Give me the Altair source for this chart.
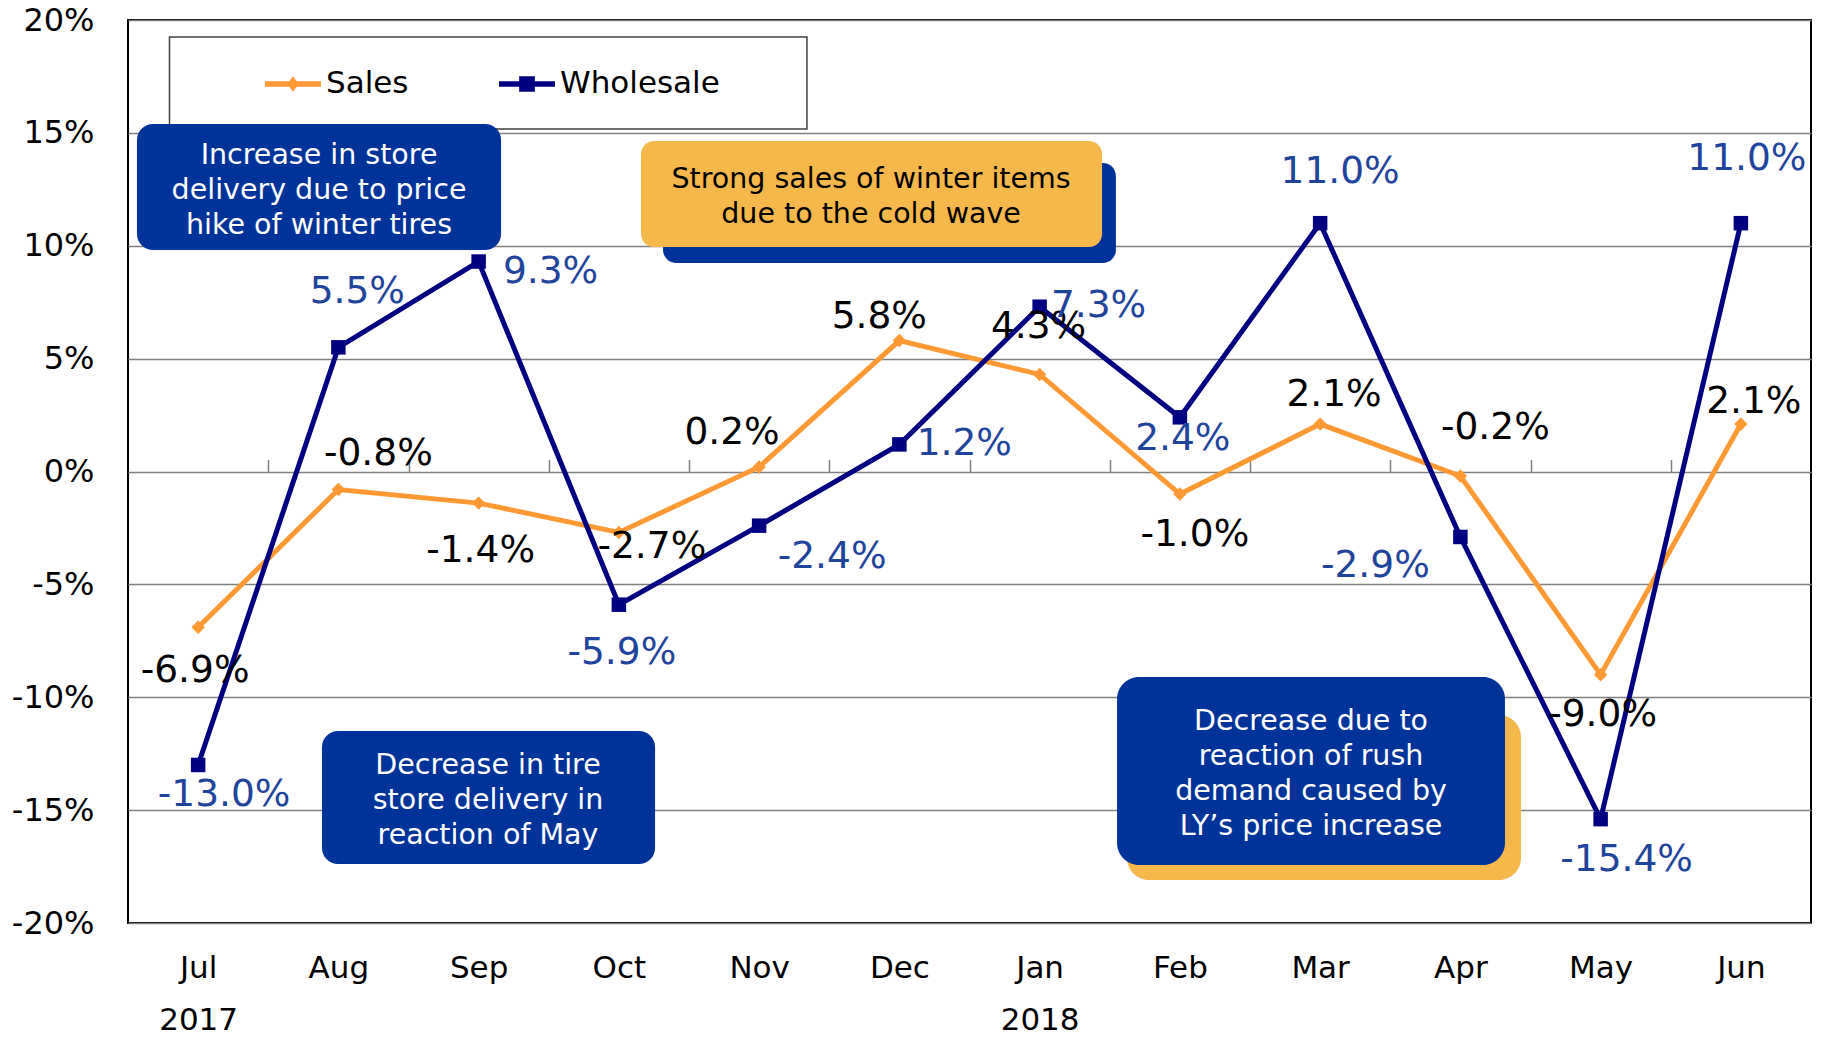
import json
import altair as alt
import pandas as pd

# ---------------- data ----------------
months = ["Jul", "Aug", "Sep", "Oct", "Nov", "Dec", "Jan", "Feb", "Mar", "Apr", "May", "Jun"]
years = ["2017", "", "", "", "", "", "2018", "", "", "", "", ""]
series_names = ["Sales", "Wholesale"]
sales = [-6.9, -0.8, -1.4, -2.7, 0.2, 5.8, 4.3, -1.0, 2.1, -0.2, -9.0, 2.1]
wholesale = [-13.0, 5.5, 9.3, -5.9, -2.4, 1.2, 7.3, 2.4, 11.0, -2.9, -15.4, 11.0]
y_ticks = [-20, -15, -10, -5, 0, 5, 10, 15, 20]

# label placement offsets (pixels, relative to each point)
sales_dx = [-3, 40, 2, 33, -27, -20, -1, 15, 14, 35, 2, 13]
sales_dy = [44, -36, 48, 15, -34, -24, -47, 41, -29, -48, 40, -22]
whole_dx = [26, 19, 72, 3, 73, 65, 59, 3, 20, -85, 26, 6]
whole_dy = [30, -55, 10, 48, 31, 0, -1, 22, -51, 29, 41, -64]

# ---------------- styles ----------------
FONT = "DejaVu Sans"
SALES_C = "#FF9933"
WHOLE_C = "#000080"
LABEL_BLUE = "#1F449C"
BOX_BLUE = "#003399"
BOX_ORANGE = "#F7B84B"
GRID_C = "#808080"
LINE_H = 35

rows = []
for name, vals, dxs, dys in [("Sales", sales, sales_dx, sales_dy),
                             ("Wholesale", wholesale, whole_dx, whole_dy)]:
    for i, v in enumerate(vals):
        rows.append({"series": name, "pos": i + 0.5, "value": v,
                     "label": f"{v:.1f}%", "dx": dxs[i], "dy": dys[i]})
df = pd.DataFrame(rows)

xscale = alt.Scale(domain=[0, 12], nice=False, zero=False)
yscale = alt.Scale(domain=[-20, 20], nice=False, zero=False)
color_scale = alt.Scale(domain=series_names, range=[SALES_C, WHOLE_C])

label_pairs = [[m, y] for m, y in zip(months, years)]
x_axis = alt.Axis(values=[i + 0.5 for i in range(len(months))],
                  labelExpr=f"{json.dumps(label_pairs)}[floor(datum.value)]",
                  labelFontSize=31, labelFont=FONT, labelColor="black",
                  labelLineHeight=52, labelBaseline="top", labelPadding=30,
                  labelFlush=False, labelOverlap=False,
                  ticks=False, domain=False, grid=False, title=None)
y_axis = alt.Axis(values=y_ticks, labelExpr="datum.value + '%'",
                  labelFontSize=32, labelFont=FONT, labelColor="black",
                  labelPadding=34, ticks=False, domain=False, grid=True,
                  gridColor=GRID_C, gridWidth=1.5, title=None)
tick_axis = alt.Axis(orient="top", offset=-451.5, values=list(range(1, len(months))),
                     labels=False, domain=False, grid=False, ticks=True,
                     tickSize=12, tickColor=GRID_C, tickWidth=1.5, title=None)

layers = []

# category tick marks on the zero line (via a top axis moved onto 0%)
layers.append(
    alt.Chart(pd.DataFrame({"b": list(range(1, len(months)))}))
    .transform_calculate(zero="0")
    .mark_point(opacity=0)
    .encode(x=alt.X("b:Q", scale=xscale, axis=tick_axis),
            y=alt.Y("zero:Q", scale=yscale, axis=None))
)

# lines
layers.append(
    alt.Chart(df).mark_line(strokeWidth=5)
    .encode(x=alt.X("pos:Q", scale=xscale, axis=x_axis),
            y=alt.Y("value:Q", scale=yscale, axis=y_axis),
            color=alt.Color("series:N", scale=color_scale, legend=None))
)

# markers
layers.append(
    alt.Chart(df).transform_filter("datum.series == 'Sales'")
    .mark_point(filled=True, shape="diamond", size=180, opacity=1)
    .encode(x=alt.X("pos:Q", scale=xscale, axis=None),
            y=alt.Y("value:Q", scale=yscale, axis=None),
            color=alt.Color("series:N", scale=color_scale, legend=None))
)
layers.append(
    alt.Chart(df).transform_filter("datum.series == 'Wholesale'")
    .mark_point(filled=True, shape="square", size=210, opacity=1)
    .encode(x=alt.X("pos:Q", scale=xscale, axis=None),
            y=alt.Y("value:Q", scale=yscale, axis=None),
            color=alt.Color("series:N", scale=color_scale, legend=None))
)

# legend box
legend_box = {"x0": 0.296, "x1": 4.841, "y0": 19.25, "y1": 15.17}
layers.append(
    alt.Chart(pd.DataFrame([legend_box]))
    .mark_rect(fill="white", stroke="#404040", strokeWidth=1.5)
    .encode(x=alt.X("x0:Q", scale=xscale, axis=None), x2="x1:Q",
            y=alt.Y("y0:Q", scale=yscale, axis=None), y2="y1:Q")
)

# annotation call-outs
annotations = [
    dict(lines=["Increase in store", "delivery  due to price", "hike  of winter tires"],
         box=(0.064, 2.660, 15.39, 9.81), fill=BOX_BLUE, text_color="white",
         center=(1.362, 12.47), radius=16, shadow=None, shadow_fill=None),
    dict(lines=["Strong sales of winter items", "due to the cold wave"],
         box=(3.658, 6.945, 14.64, 9.94), fill=BOX_ORANGE, text_color="black",
         center=(5.298, 12.18), radius=13, shadow=(3.815, 7.044, 13.67, 9.24),
         shadow_fill=BOX_BLUE),
    dict(lines=["Decrease in tire", "store delivery in", "reaction of May"],
         box=(1.383, 3.758, -11.49, -17.39), fill=BOX_BLUE, text_color="white",
         center=(2.567, -14.55), radius=16, shadow=None, shadow_fill=None),
    dict(lines=["Decrease due to", "reaction of rush", "demand caused by", "LY\u2019s price increase"],
         box=(7.052, 9.818, -9.10, -17.43), fill=BOX_BLUE, text_color="white",
         center=(8.435, -13.36), radius=22, shadow=(7.123, 9.932, -10.79, -18.10),
         shadow_fill=BOX_ORANGE),
]


def rect_layer(b, fill, radius):
    d = pd.DataFrame([{"x0": b[0], "x1": b[1], "y0": b[2], "y1": b[3]}])
    return (alt.Chart(d).mark_rect(fill=fill, cornerRadius=radius)
            .encode(x=alt.X("x0:Q", scale=xscale, axis=None), x2="x1:Q",
                    y=alt.Y("y0:Q", scale=yscale, axis=None), y2="y1:Q"))


for a in annotations:
    if a["shadow"] is not None:
        layers.append(rect_layer(a["shadow"], a["shadow_fill"], a["radius"]))
    layers.append(rect_layer(a["box"], a["fill"], a["radius"]))
    n = len(a["lines"])
    layers.append(
        alt.Chart(pd.DataFrame([{"cx": a["center"][0], "cy": a["center"][1]}]))
        .mark_text(text=a["lines"], fontSize=28.5, font=FONT, lineHeight=LINE_H,
                   color=a["text_color"], align="center", baseline="middle",
                   dy=-(n - 1) * LINE_H / 2)
        .encode(x=alt.X("cx:Q", scale=xscale, axis=None),
                y=alt.Y("cy:Q", scale=yscale, axis=None))
    )

# data labels
for name, col in [("Sales", "black"), ("Wholesale", LABEL_BLUE)]:
    layers.append(
        alt.Chart(df).transform_filter(f"datum.series == '{name}'")
        .mark_text(fontSize=37.5, font=FONT, color=col, align="center", baseline="middle",
                   dx={"expr": "datum.dx"}, dy={"expr": "datum.dy"})
        .encode(x=alt.X("pos:Q", scale=xscale, axis=None),
                y=alt.Y("value:Q", scale=yscale, axis=None),
                text="label:N")
    )

# legend (symbols: line with marker)
sales_sym = "M-1,-0.1L1,-0.1L1,0.1L-1,0.1Z M0,-0.28L0.21,0L0,0.28L-0.21,0Z"
whole_sym = "M-1,-0.1L1,-0.1L1,0.1L-1,0.1Z M-0.28,-0.28L0.28,-0.28L0.28,0.28L-0.28,0.28Z"
leg = alt.Legend(orient="none", legendX=137, legendY=36, direction="horizontal",
                 title=None, labelFontSize=31, labelFont=FONT, labelColor="black",
                 symbolSize=3136, symbolStrokeWidth=0, labelOffset=5,
                 columnPadding=90, padding=0)
layers.append(
    alt.Chart(df).transform_filter("false")
    .mark_point(filled=True, opacity=1)
    .encode(x=alt.X("pos:Q", scale=xscale, axis=None),
            y=alt.Y("value:Q", scale=yscale, axis=None),
            color=alt.Color("series:N", scale=color_scale, legend=leg),
            shape=alt.Shape("series:N",
                            scale=alt.Scale(domain=series_names, range=[sales_sym, whole_sym]),
                            legend=leg))
)

chart = (
    alt.layer(*layers)
    .resolve_axis(x="independent", y="independent")
    .resolve_scale(color="independent", shape="independent")
    .properties(width=1683, height=903,
                padding={"left": 120, "top": 12, "right": 5, "bottom": 116},
                autosize=alt.AutoSizeParams(type="none"),
                background="white")
    .configure_view(stroke="black", strokeWidth=2)
    .configure_text(font=FONT)
)

chart.save("out.html", embed_options={"renderer": "svg", "actions": False})
